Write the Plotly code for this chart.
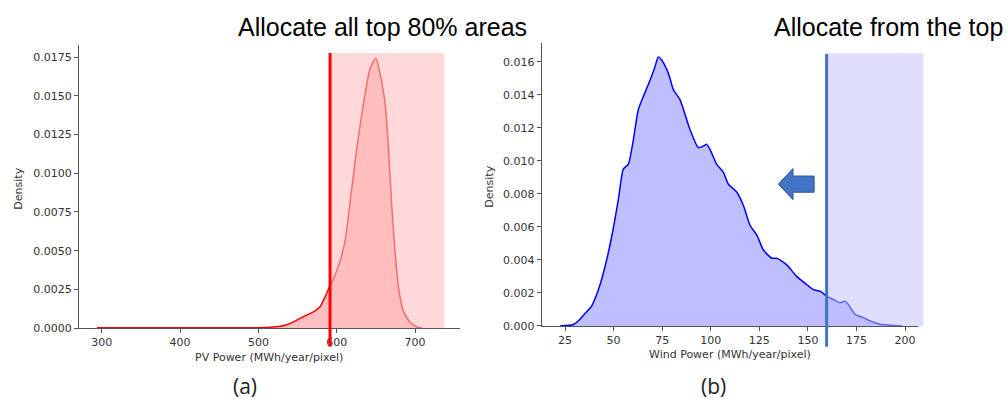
import plotly.graph_objects as go

# ---------------- data ----------------
pv_x = [294, 350, 400, 450, 500, 515, 528, 536, 545, 553, 562, 572, 579, 585, 591,
        596, 604, 611, 617, 623, 630, 636, 642.5, 650, 657, 662, 666, 670, 674.5,
        679, 685, 694, 704, 709]
pv_y = [0.00002, 0.00003, 0.00002, 0.00002, 0.00003, 0.00005, 0.00012, 0.00022,
        0.0004, 0.00063, 0.00085, 0.0011, 0.0014, 0.002, 0.0027,
        0.0032, 0.00427, 0.00575, 0.0081, 0.0106, 0.01315, 0.01506, 0.01675,
        0.01743, 0.0160, 0.01442, 0.01167, 0.0081, 0.0049, 0.00258, 0.0011,
        0.00036, 0.00004, 0.00001]

wind_x = [22.4, 29.3, 32.7, 35.3, 38.7, 42.2, 45.6, 49, 52.5, 55, 57.6, 60.2, 62.7,
          65.3, 68.8, 71.3, 73, 74.8, 78.2, 80.8, 84.2, 89.3, 93.6, 96.2, 97.9,
          99.6, 103, 106.5, 109, 113.4, 116.8, 120.2, 123.7, 127.1, 131.4, 134,
          139.1, 144.2, 149.4, 152.8, 156.3, 159.7, 163.1, 166.6, 169.1, 170.8,
          174.3, 178.6, 182, 187.1, 198.4]
wind_y = [0, 0.00008, 0.0004, 0.00075, 0.0012, 0.0022, 0.0036, 0.0054, 0.0077,
          0.0095, 0.0098, 0.0113, 0.0131, 0.0139, 0.0149, 0.0157, 0.0163, 0.0161,
          0.0153, 0.0143, 0.0137, 0.0119, 0.0108, 0.0109, 0.0110, 0.0107, 0.0098,
          0.0093, 0.0086, 0.0081, 0.0073, 0.0061, 0.0055, 0.0046, 0.0041, 0.0041,
          0.0037, 0.0030, 0.0025, 0.0022, 0.0021, 0.0018, 0.0016, 0.0014, 0.0015,
          0.0013, 0.0007, 0.0005, 0.0003, 0.0001, 0]

pv_ticks = [300, 400, 500, 600, 700]
pv_yticks = [0, 0.0025, 0.005, 0.0075, 0.01, 0.0125, 0.015, 0.0175]
wind_ticks = [25, 50, 75, 100, 125, 150, 175, 200]
wind_yticks = [0, 0.002, 0.004, 0.006, 0.008, 0.010, 0.012, 0.014, 0.016]

pv_cut = 591.5          # top-80% threshold
pv_span_end = 737.5
pv_span_top = 0.01777
wind_cut = 159.6
wind_span_end = 209.4
wind_span_top = 0.01652

title_left = "Allocate all top 80% areas"
title_right = "Allocate from the top"
xlabel_left = "PV Power (MWh/year/pixel)"
xlabel_right = "Wind Power (MWh/year/pixel)"
ylabel = "Density"

# ---------------- layout geometry ----------------
W, H = 1008, 399
DY = 5  # vertical correction in px
dom_x1 = [79 / W, 460 / W]
dom_y1 = [(H - 329 - DY) / H, (H - 41 - DY) / H]
dom_x2 = [541.7 / W, 918.3 / W]
dom_y2 = [(H - 326.7 - DY) / H, (H - 38.3 - DY) / H]
rng_x1 = [271, 757.4]
rng_y1 = [0, 0.01827]
rng_x2 = [13, 206.8]
rng_y2 = [0, 0.01717]


def frac(v, rng):
    return (v - rng[0]) / (rng[1] - rng[0])


def py(p):
    return (H - p) / H


fig = go.Figure()
fig.add_trace(go.Scatter(x=pv_x, y=pv_y, mode="lines", fill="tozeroy",
                         line=dict(color="#ff0000", width=1.5, shape="spline", smoothing=0.6),
                         fillcolor="rgba(255,0,0,0.25)", xaxis="x", yaxis="y",
                         showlegend=False, hoverinfo="skip"))
fig.add_trace(go.Scatter(x=wind_x, y=wind_y, mode="lines", fill="tozeroy",
                         line=dict(color="#0000ff", width=1.5, shape="spline", smoothing=0.6),
                         fillcolor="rgba(0,0,255,0.25)", xaxis="x2", yaxis="y2",
                         showlegend=False, hoverinfo="skip"))

axis_common = dict(showgrid=False, zeroline=False, showline=True, linecolor="#555555",
                   linewidth=1.2, ticks="outside", ticklen=4, tickcolor="#555555",
                   tickfont=dict(family="DejaVu Sans", size=11, color="#333333"))

fig.update_layout(
    width=W, height=H, autosize=False,
    margin=dict(l=0, r=0, t=0, b=0),
    paper_bgcolor="white", plot_bgcolor="white",
    xaxis=dict(domain=dom_x1, range=rng_x1, tickvals=pv_ticks, anchor="y", **axis_common),
    yaxis=dict(domain=dom_y1, range=rng_y1, tickvals=pv_yticks, tickformat=".4f",
               anchor="x", **axis_common),
    xaxis2=dict(domain=dom_x2, range=rng_x2, tickvals=wind_ticks, anchor="y2", **axis_common),
    yaxis2=dict(domain=dom_y2, range=rng_y2, tickvals=wind_yticks, tickformat=".3f",
                anchor="x2", **axis_common),
)

shapes = []
# shaded regions
shapes.append(dict(type="rect", xref="x", yref="y", x0=pv_cut, x1=pv_span_end,
                   y0=0, y1=pv_span_top, fillcolor="rgba(255,189,189,0.57)",
                   line=dict(width=0), layer="above"))
shapes.append(dict(type="rect", xref="x2 domain", yref="y2",
                   x0=frac(wind_cut, rng_x2), x1=frac(wind_span_end, rng_x2),
                   y0=0, y1=wind_span_top, fillcolor="rgba(190,190,255,0.5)",
                   line=dict(width=0), layer="above"))
# threshold lines
line_y0 = py(348 + DY)
shapes.append(dict(type="line", xref="x", yref="paper", x0=pv_cut, x1=pv_cut,
                   y0=line_y0, y1=py(49 + DY), line=dict(color="#ff0000", width=3),
                   layer="above"))
shapes.append(dict(type="line", xref="x2", yref="paper", x0=wind_cut, x1=wind_cut,
                   y0=line_y0, y1=py(50 + DY), line=dict(color="#4472c4", width=3),
                   layer="above"))
# arrow pointing left
ax_tip, ax_head, ax_end = 134.8, 142.3, 153.2
ay_c, ay_h, ay_b = 0.00859, 0.00094, 0.00049
arrow_path = (f"M {ax_tip},{ay_c} L {ax_head},{ay_c + ay_h} L {ax_head},{ay_c + ay_b} "
              f"L {ax_end},{ay_c + ay_b} L {ax_end},{ay_c - ay_b} L {ax_head},{ay_c - ay_b} "
              f"L {ax_head},{ay_c - ay_h} Z")
shapes.append(dict(type="path", xref="x2", yref="y2", path=arrow_path,
                   fillcolor="#4472c4", line=dict(color="#2f528f", width=1), layer="above"))
fig.update_layout(shapes=shapes)

ann = []
lab_font = dict(family="DejaVu Sans", size=11, color="#333333")
ann.append(dict(text=xlabel_left, x=268.8 / W, y=py(359.3 + DY), xref="paper", yref="paper",
                showarrow=False, font=lab_font, xanchor="center", yanchor="middle"))
ann.append(dict(text=xlabel_right, x=730 / W, y=py(356 + DY), xref="paper", yref="paper",
                showarrow=False, font=lab_font, xanchor="center", yanchor="middle"))
ann.append(dict(text=ylabel, x=18.3 / W, y=py(186.7 + DY), xref="paper", yref="paper",
                showarrow=False, font=lab_font, textangle=-90, xanchor="center", yanchor="middle"))
ann.append(dict(text=ylabel, x=490 / W, y=py(185 + DY), xref="paper", yref="paper",
                showarrow=False, font=lab_font, textangle=-90, xanchor="center", yanchor="middle"))
title_font = dict(family="Liberation Sans, Arial", size=25, color="#000000")
ann.append(dict(text=title_left, x=236 / W, y=py(27), xref="paper", yref="paper",
                showarrow=False, font=title_font, xanchor="left", yanchor="middle"))
ann.append(dict(text=title_right, x=772 / W, y=py(27), xref="paper", yref="paper",
                showarrow=False, font=title_font, xanchor="left", yanchor="middle"))
sub_font = dict(family="Open Sans, Noto Sans", size=21, color="#222222")
ann.append(dict(text="(a)", x=245 / W, y=py(387 + 6), xref="paper", yref="paper",
                showarrow=False, font=sub_font, xanchor="center", yanchor="middle"))
ann.append(dict(text="(b)", x=713.7 / W, y=py(387 + 6), xref="paper", yref="paper",
                showarrow=False, font=sub_font, xanchor="center", yanchor="middle"))
fig.update_layout(annotations=ann)

fig.write_html("out.html", config={"displayModeBar": False},
               post_script="document.body.style.margin='0';document.body.style.padding='0';"
                           "document.body.style.overflow='hidden';")
